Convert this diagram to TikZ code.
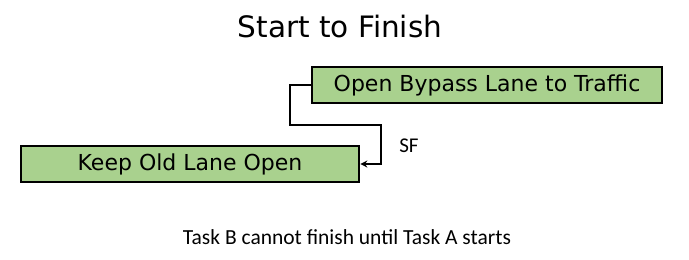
\documentclass[tikz,border=0pt]{standalone}
\usepackage{fontspec}
\setmainfont{DejaVu Sans}
\newfontfamily\notefont{Carlito}
\usetikzlibrary{arrows.meta}
\definecolor{TaskGreen}{HTML}{A9D18E}

\tikzset{
  taskbox/.style={draw,fill=TaskGreen,line width=2.6pt,minimum height=36pt,inner sep=0pt,font=\fontsize{22}{26}\selectfont},
  linkline/.style={line width=2.6pt,-{Stealth[length=7pt,width=7pt]}}
}

\begin{document}
\begin{tikzpicture}[x=1pt,y=-1pt]
  \useasboundingbox[fill=white] (0,0) rectangle (689,260);
  \node[font=\fontsize{29.5}{34}\selectfont] (title) at (340,27) {Start to Finish};
  \node[taskbox,minimum width=350pt] (taskA) at (487,85) {Open Bypass Lane to Traffic};
  \node[taskbox,minimum width=338pt] (taskB) at (190,164) {Keep Old Lane Open};
  \coordinate (bend) at (290,125); \coordinate (drop) at (381,164);
  \draw[linkline] (taskA.west) -| (bend) -| (drop) -- (taskB.east);
  \node[font=\notefont\fontsize{21}{25}\selectfont] (sf) at (409,146) {SF};
  \node[font=\notefont\fontsize{21.5}{25}\selectfont] (note) at (347,237) {Task B cannot finish until Task A starts};
\end{tikzpicture}
\end{document}
